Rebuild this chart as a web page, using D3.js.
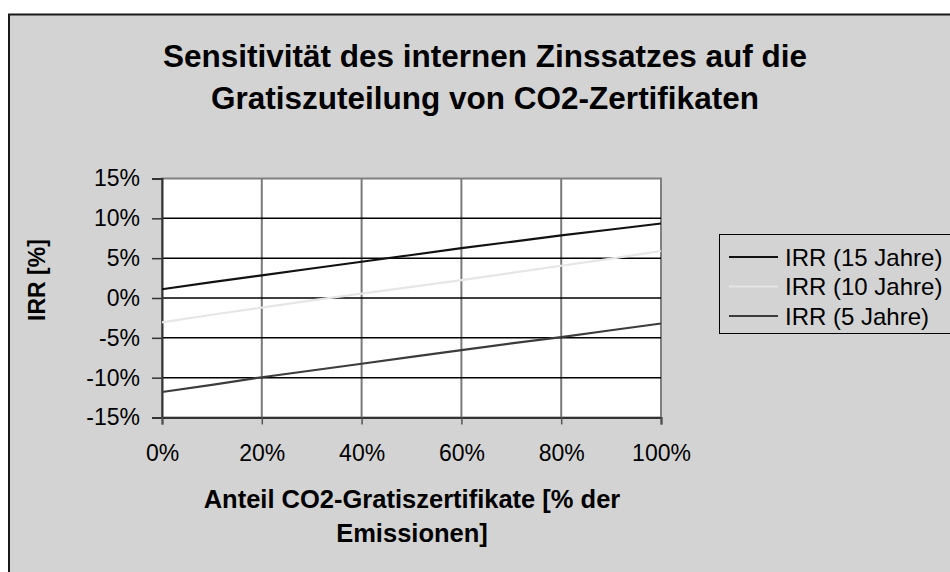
<!DOCTYPE html>
<html>
<head>
<meta charset="utf-8">
<script src="https://cdn.jsdelivr.net/npm/d3@7"></script>
<style>
  html, body { margin: 0; padding: 0; background: #ffffff; }
  svg { display: block; font-family: "Liberation Sans", Arial, sans-serif; }
</style>
</head>
<body>
<svg id="chart" width="950" height="572"></svg>
<script>
// ---- data ----
const shares = [0, 0.1, 0.2, 0.3, 0.4, 0.5, 0.6, 0.7, 0.8, 0.9, 1.0];
const irr15 = [1.1, 2.0, 2.85, 3.7, 4.55, 5.4, 6.25, 7.05, 7.85, 8.6, 9.35];
const irr10 = [-3.05, -2.1, -1.2, -0.3, 0.55, 1.4, 2.25, 3.15, 4.05, 4.95, 5.9];
const irr5  = [-11.8, -10.9, -9.95, -9.1, -8.25, -7.4, -6.55, -5.7, -4.9, -4.05, -3.2];
const seriesNames = ["IRR (15 Jahre)", "IRR (10 Jahre)", "IRR (5 Jahre)"];
const xTicks = [0, 0.2, 0.4, 0.6, 0.8, 1.0];
const yTicks = [-15, -10, -5, 0, 5, 10, 15];
const titleLines = ["Sensitivität des internen Zinssatzes auf die", "Gratiszuteilung von CO2-Zertifikaten"];
const xTitleLines = ["Anteil CO2-Gratiszertifikate [% der", "Emissionen]"];
const yTitle = "IRR [%]";

const series = [
  { name: seriesNames[0], values: irr15, color: "#111111" },
  { name: seriesNames[1], values: irr10, color: "#e6e6e6" },
  { name: seriesNames[2], values: irr5,  color: "#3c3c3c" }
];

const svg = d3.select("#chart");
const bg = "#d3d3d3";

// chart area background
svg.append("rect").attr("x", 9).attr("y", 14.5).attr("width", 1000).attr("height", 600)
  .attr("fill", bg).attr("stroke", "#1a1a1a").attr("stroke-width", 2);

const plot = { left: 162, right: 661, top: 178.5, bottom: 417.5 };
const x = d3.scaleLinear().domain([0, 1]).range([plot.left, plot.right]);
const y = d3.scaleLinear().domain([-15, 15]).range([plot.bottom, plot.top]);

// plot background
svg.append("rect").attr("x", plot.left).attr("y", plot.top)
  .attr("width", plot.right - plot.left).attr("height", plot.bottom - plot.top)
  .attr("fill", "#ffffff").attr("stroke", "#808080").attr("stroke-width", 2);

// vertical gridlines
svg.append("g").selectAll("line").data(xTicks.slice(1, -1)).join("line")
  .attr("x1", d => x(d)).attr("x2", d => x(d))
  .attr("y1", plot.top).attr("y2", plot.bottom)
  .attr("stroke", "#7a7a7a").attr("stroke-width", 2);

// horizontal gridlines
svg.append("g").selectAll("line").data(yTicks.slice(1, -1)).join("line")
  .attr("x1", plot.left).attr("x2", plot.right)
  .attr("y1", d => y(d)).attr("y2", d => y(d))
  .attr("stroke", "#000000").attr("stroke-width", 1.5);

// axes
const yAxis = d3.axisLeft(y).tickValues(yTicks).tickFormat(d => d + "%").tickSize(10).tickPadding(12);
const gy = svg.append("g").attr("transform", `translate(${plot.left},0)`).call(yAxis);
gy.select(".domain").attr("stroke", "#333333").attr("stroke-width", 2);
gy.selectAll(".tick line").attr("stroke", "#333333").attr("stroke-width", 1.5);
gy.selectAll(".tick text").attr("font-size", 23).attr("fill", "#000")
  .attr("font-family", "Liberation Sans, Arial, sans-serif");

const xAxis = d3.axisBottom(x).tickValues(xTicks).tickFormat(d => Math.round(d * 100) + "%").tickSize(7).tickPadding(20);
const gx = svg.append("g").attr("transform", `translate(0,${plot.bottom})`).call(xAxis);
gx.select(".domain").attr("stroke", "#333333").attr("stroke-width", 2);
gx.selectAll(".tick line").attr("stroke", "#555555").attr("stroke-width", 1.5);
gx.selectAll(".tick text").attr("font-size", 23).attr("fill", "#000")
  .attr("font-family", "Liberation Sans, Arial, sans-serif");

// lines
const line = d3.line().x((d, i) => x(shares[i])).y(d => y(d));
svg.append("g").selectAll("path").data(series).join("path")
  .attr("d", d => line(d.values))
  .attr("fill", "none").attr("stroke", d => d.color).attr("stroke-width", 2.2);

// title
svg.append("g").selectAll("text").data(titleLines).join("text")
  .attr("x", 485).attr("y", (d, i) => 56 + i * 42)
  .attr("text-anchor", "middle").attr("dominant-baseline", "central")
  .attr("font-size", 31.5).attr("font-weight", "bold").attr("fill", "#000")
  .text(d => d);

// x axis title
svg.append("g").selectAll("text").data(xTitleLines).join("text")
  .attr("x", 412).attr("y", (d, i) => 499 + i * 34)
  .attr("text-anchor", "middle").attr("dominant-baseline", "central")
  .attr("font-size", 25.5).attr("font-weight", "bold").attr("fill", "#000")
  .text(d => d);

// y axis title
svg.append("text")
  .attr("transform", `translate(37,280) rotate(-90)`)
  .attr("text-anchor", "middle").attr("dominant-baseline", "central")
  .attr("font-size", 23).attr("font-weight", "bold").attr("fill", "#000")
  .text(yTitle);

// legend
const lg = svg.append("g");
lg.append("rect").attr("x", 719.5).attr("y", 234.5).attr("width", 300).attr("height", 99)
  .attr("fill", bg).attr("stroke", "#000").attr("stroke-width", 1);
const items = lg.selectAll("g.item").data(series).join("g").attr("class", "item")
  .attr("transform", (d, i) => `translate(0,${257 + i * 29.5})`);
items.append("line").attr("x1", 729).attr("x2", 778).attr("y1", 0).attr("y2", 0)
  .attr("stroke", d => d.color).attr("stroke-width", 2.2);
items.append("text").attr("x", 785).attr("y", 0).attr("dominant-baseline", "central")
  .attr("font-size", 24).attr("fill", "#000").text(d => d.name);
</script>
</body>
</html>
